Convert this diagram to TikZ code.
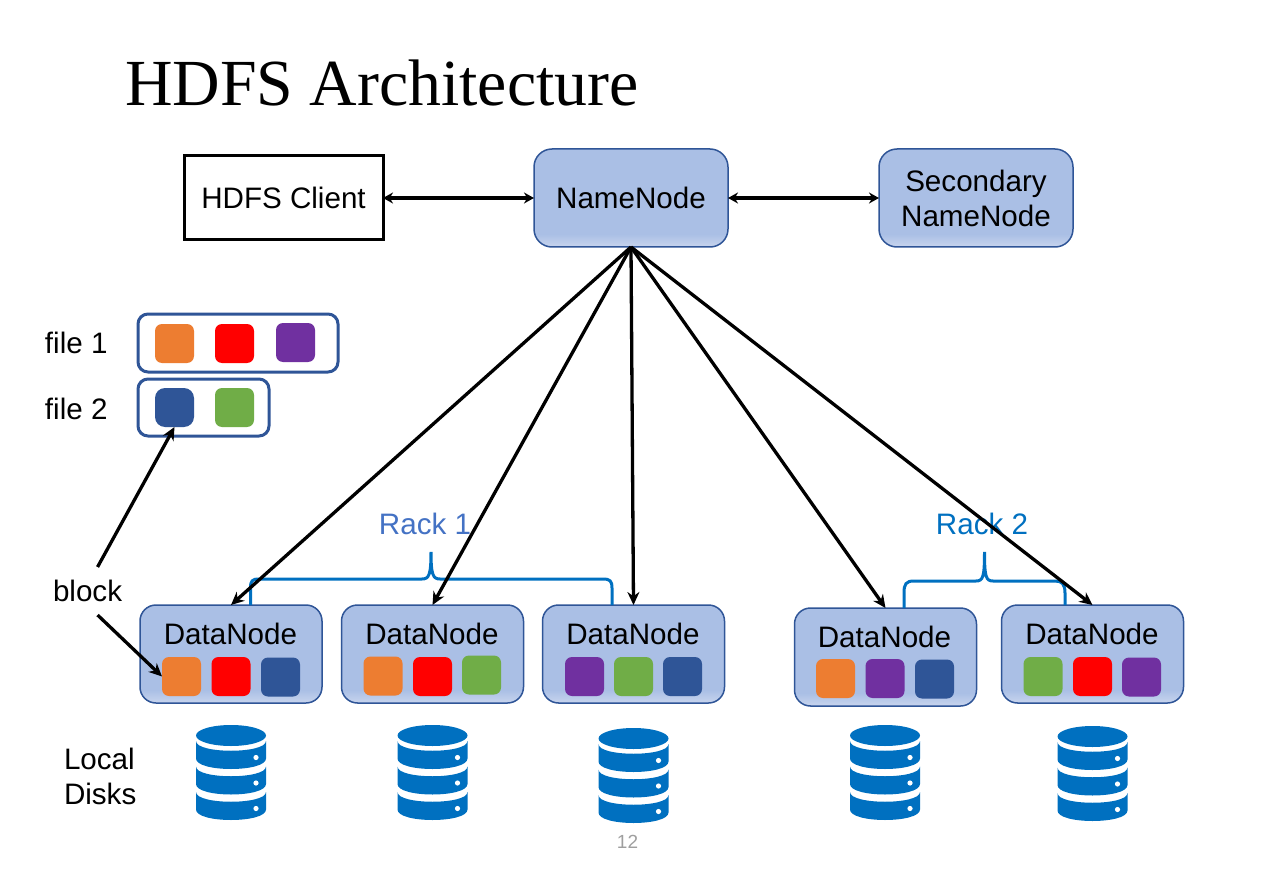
\documentclass[tikz,border=0pt]{standalone}
\usepackage{fontspec}
\setmainfont{Liberation Sans}
\newfontfamily\titlefont{Liberation Serif}
\definecolor{nodefill}{HTML}{AABFE5}
\definecolor{nodelight}{HTML}{C6D3ED}
\definecolor{nodeedge}{HTML}{2F5597}
\definecolor{blkorange}{HTML}{ED7D31}
\definecolor{blkred}{HTML}{FF0000}
\definecolor{blkpurple}{HTML}{7030A0}
\definecolor{blkblue}{HTML}{2F5597}
\definecolor{blkgreen}{HTML}{70AD47}
\definecolor{rackblue}{HTML}{0070C0}
\definecolor{racklabel}{HTML}{4472C4}
\usetikzlibrary{arrows.meta}
\tikzset{
  lbl/.style={font=\fontsize{29.6}{35}\selectfont,inner sep=0pt,outer sep=0pt,align=center},
  mainbox/.style={draw=nodeedge,line width=1.5pt,rounded corners=16pt,inner sep=0pt,outer sep=0pt,
    fill=nodefill,minimum width=#1,
    path picture={\foreach \i in {1,...,12}{
      \pgfmathtruncatemacro{\p}{\i*100/12}
      \pgfmathsetlengthmacro{\h}{(13-\i)*1pt}
      \fill[sharp corners,nodelight!\p!nodefill]
        ([yshift=\h]path picture bounding box.south west) rectangle (path picture bounding box.south east);}}},
  blk/.style={fill=#1,draw=none,rounded corners=7pt,minimum width=39pt,minimum height=39pt,inner sep=0pt,outer sep=0pt},
  filebox/.style={draw=nodeedge,line width=3pt,rounded corners=10pt,fill=white,inner sep=0pt,outer sep=0pt},
  conn/.style={line width=3.3pt,black,-{Stealth[length=13pt,width=12pt]}},
  biconn/.style={line width=3.3pt,black,{Stealth[length=10pt,width=11pt]}-{Stealth[length=10pt,width=11pt]}},
  rackbrace/.style={draw=rackblue,line width=3pt},
  diskstack/.pic={
    \fill[rackblue] (0,0) ellipse [x radius=35pt,y radius=10.5pt];
    \foreach \d in {0,25.5,51}{
      \fill[rackblue] (-35,5.5+\d) .. controls (-35,18.5+\d) and (35,18.5+\d) .. (35,5.5+\d)
        -- (35,23+\d) .. controls (35,37+\d) and (-35,37+\d) .. (-35,23+\d) -- cycle;
      \fill[white] (25,22+\d) circle [radius=2.6pt];
    }
  }
}
\begin{document}
\begin{tikzpicture}[x=1pt,y=-1pt]
\useasboundingbox (0,0) rectangle (1267,869);
\node[font=\titlefont\fontsize{65.8}{70}\selectfont,anchor=base west,inner sep=0pt] (title) at (125,106) {HDFS Architecture};

% top row
\node[draw=black,line width=3pt,minimum width=199pt,minimum height=84pt,inner sep=0pt,outer sep=0pt,lbl] (client) at (283.5,198) {HDFS Client};
\node[mainbox=194pt,minimum height=98pt,lbl,draw=nodeedge,rounded corners=18pt] (nn) at (631,198) {NameNode};
\node[mainbox=194pt,minimum height=98pt,lbl,draw=nodeedge,rounded corners=18pt] (snn) at (976,198) {Secondary\\NameNode};

% files
\node[lbl,anchor=west] (f1l) at (45,343) {file 1};
\node[lbl,anchor=west] (f2l) at (45,409) {file 2};
\node[filebox,minimum width=200pt,minimum height=58pt] (f1) at (238,343) {};
\node[filebox,minimum width=131pt,minimum height=57pt] (f2) at (203.5,407.5) {};
\node[blk=blkorange] (f1a) at (174.5,343.5) {};
\node[blk=blkred] (f1b) at (234.5,343.5) {};
\node[blk=blkpurple] (f1c) at (295.5,342.5) {};
\node[blk=blkblue,rounded corners=10pt] (f2a) at (174.5,407.5) {};
\node[blk=blkgreen] (f2b) at (234.5,407.5) {};

% data nodes
\node[mainbox=182pt,minimum height=98pt] (d1) at (231,654) {};
\node[mainbox=182pt,minimum height=98pt] (d2) at (432.5,654) {};
\node[mainbox=182pt,minimum height=98pt] (d3) at (633.5,654) {};
\node[mainbox=182pt,minimum height=98pt] (d4) at (885.5,657) {};
\node[mainbox=182pt,minimum height=98pt] (d5) at (1092.5,654) {};
\node[lbl,anchor=base] (d1t) at (230.5,644) {DataNode};
\node[lbl,anchor=base] (d2t) at (432,644) {DataNode};
\node[lbl,anchor=base] (d3t) at (633,644) {DataNode};
\node[lbl,anchor=base] (d4t) at (884.5,647) {DataNode};
\node[lbl,anchor=base] (d5t) at (1092,644) {DataNode};

\node[blk=blkorange] (d1a) at (181.5,676.5) {};
\node[blk=blkred] (d1b) at (231,676.5) {};
\node[blk=blkblue] (d1c) at (280.5,677) {};
\node[blk=blkorange] (d2a) at (383,676) {};
\node[blk=blkred] (d2b) at (432.5,676.5) {};
\node[blk=blkgreen] (d2c) at (481.5,675) {};
\node[blk=blkpurple] (d3a) at (584.5,676.5) {};
\node[blk=blkgreen] (d3b) at (633.5,676.5) {};
\node[blk=blkblue] (d3c) at (682.5,676.5) {};
\node[blk=blkorange] (d4a) at (835.5,678.5) {};
\node[blk=blkpurple] (d4b) at (885,678.5) {};
\node[blk=blkblue] (d4c) at (934.5,679) {};
\node[blk=blkgreen] (d5a) at (1043,676.5) {};
\node[blk=blkred] (d5b) at (1092.5,676.5) {};
\node[blk=blkpurple] (d5c) at (1141.5,677) {};

% braces
\draw[rackbrace] (d1.north -| 250.5,0) -- (250.5,588) .. controls (250.5,581) and (252,579) .. (259,579)
  -- (422,579) .. controls (429,579) and (431,575) .. (431,552)
  .. controls (431,575) and (433,579) .. (440,579)
  -- (603,579) .. controls (610,579) and (612,581) .. (612,588) -- (d3.north -| 612,0);
\draw[rackbrace] (d4.north -| 904,0) -- (904,593) .. controls (904,584) and (906,581) .. (914,581)
  -- (976,581) .. controls (983,581) and (984.5,577) .. (984.5,552)
  .. controls (984.5,577) and (986,581) .. (993,581)
  -- (1055,581) .. controls (1062,581) and (1065,584) .. (1065,593) -- (d5.north -| 1065,0);
\node[lbl,text=racklabel] (r1) at (425,524) {Rack 1};
\node[lbl,text=rackblue] (r2) at (982,524) {Rack 2};

% connectors
\draw[biconn] (client.east) -- (nn.west);
\draw[biconn] (nn.east) -- (snn.west);
\draw[conn] (nn.south) -- (d1.north);
\draw[conn] (nn.south) -- (d2.north);
\draw[conn] (nn.south) -- (d3.north);
\draw[conn] (nn.south) -- (d4.north);
\draw[conn] (nn.south) -- (d5.north);

% block label
\node[lbl,anchor=west,minimum height=48pt] (block) at (53,591) {block};
\draw[conn] ([xshift=10pt]block.north) -- (f2a.south);
\draw[conn] ([xshift=10pt]block.south) -- (d1a.west);

% disks
\node[lbl,anchor=west,align=left] (ld) at (64,776) {Local\\Disks};
\pic at (231,735.5) {diskstack};
\pic at (432.5,735.5) {diskstack};
\pic at (633.5,738.5) {diskstack};
\pic at (885,735.5) {diskstack};
\pic at (1092.5,736.5) {diskstack};

\node[font=\fontsize{19}{22}\selectfont,text=gray!75,inner sep=0pt] (pg) at (627.5,842) {12};
\end{tikzpicture}
\end{document}
